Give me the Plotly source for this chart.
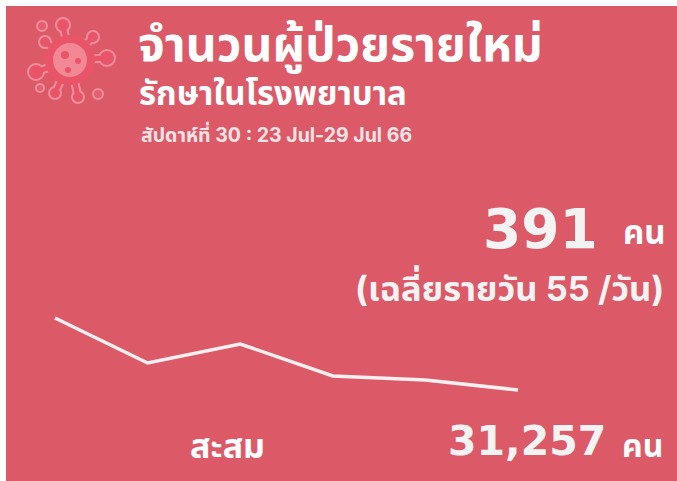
import plotly.graph_objects as go

W, H = 677, 481
weeks = [25, 26, 27, 28, 29, 30]
new_cases = [535, 445, 483, 419, 411, 391]

THAI = "Inter, 'Noto Sans Thai', 'Noto Sans', 'Open Sans', 'DejaVu Sans', sans-serif"
NUM = "'DejaVu Sans', Inter, sans-serif"
BG = "#DC5A68"

def px(x): return x / W
def py(y): return 1 - y / H

shapes = [dict(type="rect", xref="paper", yref="paper", x0=px(6), x1=px(677), y0=py(6), y1=py(481),
               fillcolor=BG, line_width=0, layer="below")]

def circle(cx, cy, r, fill, line=None, lw=0):
    shapes.append(dict(type="circle", xref="paper", yref="paper", x0=px(cx-r), x1=px(cx+r),
                       y0=py(cy+r), y1=py(cy-r), fillcolor=fill,
                       line=dict(color=line or fill, width=lw), layer="below"))

def arm(x0, y0, x1, y1, color, w):
    shapes.append(dict(type="line", xref="paper", yref="paper", x0=px(x0), x1=px(x1),
                       y0=py(y0), y1=py(y1), line=dict(color=color, width=w), layer="below"))

PALE, MID, CORE = "#EF8E9A", "#E95469", "#F28896"
cx, cy = 70, 60
blobs = [(63, 25, 7), (93, 37, 6), (107, 58, 8), (78, 97, 6), (55, 93, 6), (36, 72, 8), (45, 42, 6)]
for bx, by, r in blobs:
    arm(cx, cy, bx, by, PALE, 9)
for bx, by, r in blobs:
    circle(bx, by, r, MID, PALE, 2)
for bx, by, r in blobs:
    arm(cx, cy, bx, by, MID, 5)
for bx, by, r in [(42, 26, 5), (98, 94, 5), (40, 88, 4)]:
    circle(bx, by, r, "#E4606F", PALE, 2)
circle(cx, cy, 25, MID)
circle(cx, cy, 17, CORE)
for bx, by, r in [(65, 55, 4), (78, 61, 3), (68, 70, 3)]:
    circle(bx, by, r, MID)

def label(text, x, y, size, anchor="left", color="#FFFFFF", family=THAI):
    return dict(text=f"<b>{text}</b>", xref="paper", yref="paper", x=px(x), y=py(y), xanchor=anchor,
                yanchor="middle", showarrow=False, font=dict(family=family, size=size, color=color))

annotations = [
    label("จำนวนผู้ป่วยรายใหม่", 136, 44, 48),
    label("รักษาในโรงพยาบาล", 137, 93, 33),
    label("สัปดาห์ที่ 30 : 23 Jul-29 Jul 66", 139, 134, 19.5, color="#F5E3E5"),
    label("391", 600, 229, 55, "right", "#F3F3F3", NUM),
    label("คน", 668, 232, 33, "right"),
    label("(เฉลี่ยรายวัน 55 /วัน)", 666, 287, 34.5, "right", "#F3F3F3"),
    label("สะสม", 227, 445, 34, "center"),
    label("31,257", 608, 441, 41, "right", "#F3F3F3", NUM),
    label("คน", 665, 445, 32, "right"),
]

fig = go.Figure(go.Scatter(x=weeks, y=new_cases, mode="lines",
                           line=dict(color="#FBEFF0", width=3.5), hoverinfo="skip"))
fig.update_layout(
    width=W, height=H, margin=dict(l=0, r=0, t=0, b=0),
    paper_bgcolor="#FFFFFF", plot_bgcolor="rgba(0,0,0,0)", showlegend=False,
    xaxis=dict(visible=False, range=[24.406, 31.717]),
    yaxis=dict(visible=False, range=[209, 1171]),
    shapes=shapes, annotations=annotations,
)
fig.write_html("out.html", config={"displayModeBar": False},
               post_script="document.body.style.margin='0';document.documentElement.style.overflow='hidden';")
